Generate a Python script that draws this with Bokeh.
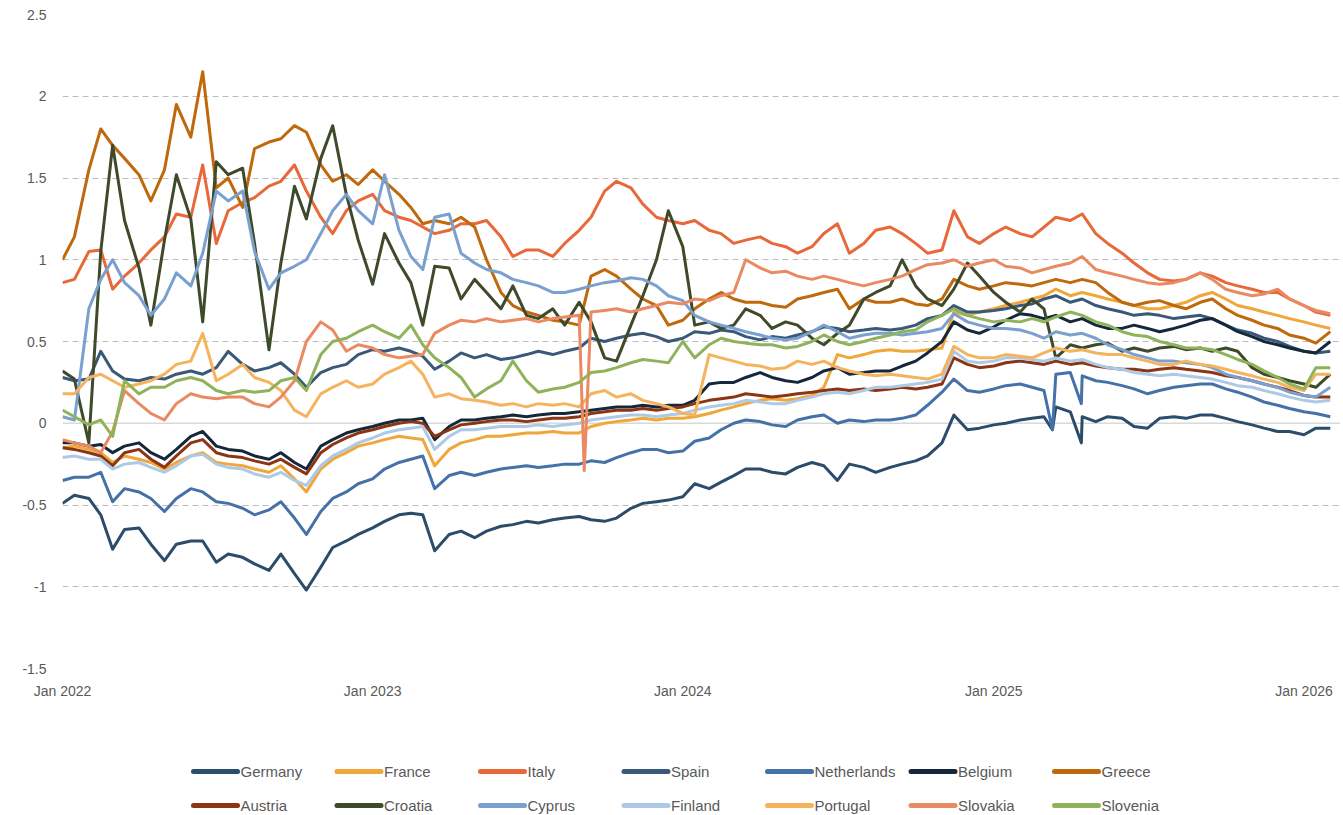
import pandas as pd
from bokeh.plotting import figure
from bokeh.models import Range1d, FixedTicker, NumeralTickFormatter, DatetimeTickFormatter, Span, ColumnDataSource
from bokeh.layouts import column
from bokeh.embed import file_html
from bokeh.resources import INLINE
from bokeh.core.properties import value

# semi-monthly observation dates (1st and 15th), Jan 2022 - Feb 2026
dates = pd.date_range("2022-01-01", "2026-02-01", freq="SMS")

countries = ["Germany", "France", "Italy", "Spain", "Netherlands", "Belgium", "Greece",
             "Austria", "Croatia", "Cyprus", "Finland", "Portugal", "Slovakia", "Slovenia"]
colors = ["#2b4c6b", "#f0a73a", "#e8683a", "#3a5878", "#4472a8", "#15273a", "#c0680c",
          "#8b3514", "#3e4a2a", "#79a0cf", "#aec9e6", "#f6b35e", "#ea8a62", "#8fb35a"]

germany = [-0.49, -0.44, -0.46, -0.56, -0.77, -0.65, -0.64, -0.74, -0.84, -0.74,
           -0.72, -0.72, -0.85, -0.80, -0.82, -0.86, -0.90, -0.80, -0.92, -1.02,
           -0.88, -0.76, -0.72, -0.68, -0.64, -0.60, -0.56, -0.55, -0.56, -0.78,
           -0.68, -0.66, -0.70, -0.66, -0.63, -0.62, -0.60, -0.61, -0.59, -0.58,
           -0.57, -0.59, -0.60, -0.58, -0.52, -0.49, -0.48, -0.47, -0.45, -0.37,
           -0.40, -0.36, -0.32, -0.28, -0.28, -0.30, -0.31, -0.27, -0.24, -0.26,
           -0.35, -0.25, -0.27, -0.30, -0.27, -0.25, -0.23, -0.20, -0.12, 0.05,
           -0.04, -0.03, -0.01, 0.00, 0.02, 0.03, 0.04, 0.10, 0.07, 0.04,
           0.01, 0.04, 0.03, -0.02, -0.03, 0.03, 0.04, 0.03, 0.05, 0.05,
           0.03, 0.01, -0.01, -0.03, -0.05, -0.05, -0.07, -0.03, -0.03]
france = [-0.15, -0.14, -0.16, -0.18, -0.24, -0.20, -0.22, -0.24, -0.28, -0.24,
          -0.20, -0.18, -0.24, -0.25, -0.26, -0.28, -0.30, -0.26, -0.34, -0.42,
          -0.28, -0.22, -0.18, -0.14, -0.12, -0.10, -0.08, -0.09, -0.10, -0.26,
          -0.16, -0.12, -0.10, -0.08, -0.08, -0.07, -0.06, -0.06, -0.05, -0.06,
          -0.06, -0.02, 0.00, 0.01, 0.02, 0.03, 0.02, 0.03, 0.03, 0.04,
          0.06, 0.08, 0.10, 0.12, 0.14, 0.15, 0.14, 0.15, 0.17, 0.22,
          0.42, 0.40, 0.42, 0.44, 0.45, 0.44, 0.44, 0.45, 0.46, 0.68,
          0.66, 0.68, 0.70, 0.72, 0.74, 0.76, 0.78, 0.82, 0.78, 0.80,
          0.78, 0.76, 0.74, 0.72, 0.70, 0.70, 0.72, 0.74, 0.78, 0.80,
          0.76, 0.72, 0.70, 0.68, 0.66, 0.64, 0.62, 0.60, 0.58]
italy = [0.86, 0.88, 1.05, 1.06, 0.82, 0.90, 0.98, 1.06, 1.14, 1.28,
         1.26, 1.58, 1.10, 1.30, 1.35, 1.38, 1.45, 1.48, 1.58, 1.42,
         1.26, 1.16, 1.30, 1.36, 1.40, 1.30, 1.26, 1.24, 1.20, 1.16,
         1.18, 1.22, 1.22, 1.24, 1.14, 1.02, 1.06, 1.06, 1.02, 1.10,
         1.18, 1.26, 1.42, 1.48, 1.44, 1.34, 1.26, 1.24, 1.22, 1.24,
         1.18, 1.16, 1.10, 1.12, 1.14, 1.10, 1.08, 1.04, 1.08, 1.16,
         1.22, 1.04, 1.10, 1.18, 1.20, 1.16, 1.10, 1.04, 1.06, 1.30,
         1.14, 1.10, 1.16, 1.20, 1.16, 1.14, 1.20, 1.26, 1.24, 1.28,
         1.16, 1.10, 1.04, 0.98, 0.92, 0.88, 0.87, 0.88, 0.92, 0.90,
         0.86, 0.84, 0.82, 0.80, 0.80, 0.76, 0.72, 0.68, 0.66]
spain = [0.28, 0.26, 0.27, 0.44, 0.32, 0.27, 0.26, 0.28, 0.27, 0.30,
         0.32, 0.30, 0.34, 0.44, 0.36, 0.32, 0.34, 0.37, 0.30, 0.22,
         0.31, 0.34, 0.36, 0.42, 0.45, 0.44, 0.46, 0.44, 0.41, 0.33,
         0.38, 0.43, 0.40, 0.42, 0.39, 0.40, 0.42, 0.44, 0.42, 0.44,
         0.46, 0.52, 0.50, 0.52, 0.54, 0.55, 0.53, 0.50, 0.52, 0.56,
         0.55, 0.57, 0.56, 0.53, 0.51, 0.53, 0.52, 0.54, 0.56, 0.59,
         0.58, 0.56, 0.57, 0.58, 0.57, 0.58, 0.60, 0.64, 0.66, 0.72,
         0.68, 0.68, 0.69, 0.70, 0.72, 0.73, 0.76, 0.78, 0.74, 0.76,
         0.72, 0.70, 0.68, 0.66, 0.67, 0.66, 0.64, 0.65, 0.66, 0.64,
         0.60, 0.57, 0.55, 0.52, 0.50, 0.47, 0.44, 0.43, 0.44]
netherlands = [-0.35, -0.33, -0.33, -0.30, -0.48, -0.40, -0.42, -0.46, -0.54, -0.46,
               -0.40, -0.42, -0.48, -0.49, -0.52, -0.56, -0.53, -0.48, -0.58, -0.68,
               -0.54, -0.46, -0.42, -0.37, -0.34, -0.28, -0.24, -0.22, -0.20, -0.40,
               -0.32, -0.30, -0.32, -0.30, -0.28, -0.27, -0.26, -0.27, -0.26, -0.25,
               -0.25, -0.23, -0.24, -0.21, -0.18, -0.16, -0.16, -0.18, -0.17, -0.11,
               -0.09, -0.04, 0.00, 0.02, 0.01, -0.01, -0.02, 0.02, 0.04, 0.05,
               0.00, 0.02, 0.01, 0.02, 0.02, 0.03, 0.05, 0.11, 0.19, 0.27,
               0.20, 0.19, 0.21, 0.23, 0.24, 0.22, 0.20, 0.30, 0.31, 0.29,
               0.26, 0.25, 0.23, 0.21, 0.18, 0.20, 0.22, 0.23, 0.24, 0.24,
               0.21, 0.19, 0.16, 0.13, 0.11, 0.09, 0.07, 0.06, 0.04]
belgium = [-0.12, -0.12, -0.14, -0.13, -0.18, -0.14, -0.12, -0.18, -0.22, -0.16,
           -0.08, -0.05, -0.14, -0.16, -0.17, -0.20, -0.22, -0.18, -0.24, -0.28,
           -0.14, -0.10, -0.06, -0.04, -0.02, 0.00, 0.02, 0.02, 0.03, -0.10,
           -0.02, 0.02, 0.02, 0.03, 0.04, 0.05, 0.04, 0.05, 0.06, 0.06,
           0.07, 0.08, 0.09, 0.10, 0.10, 0.11, 0.10, 0.11, 0.11, 0.14,
           0.24, 0.25, 0.25, 0.28, 0.31, 0.28, 0.26, 0.25, 0.28, 0.32,
           0.34, 0.30, 0.31, 0.32, 0.32, 0.35, 0.38, 0.43, 0.50, 0.62,
           0.57, 0.55, 0.59, 0.63, 0.67, 0.66, 0.64, 0.66, 0.62, 0.64,
           0.60, 0.58, 0.58, 0.60, 0.58, 0.56, 0.58, 0.60, 0.63, 0.64,
           0.60, 0.56, 0.53, 0.50, 0.48, 0.46, 0.44, 0.43, 0.50]
greece = [1.00, 1.14, 1.55, 1.80, 1.70, 1.62, 1.52, 1.36, 1.55, 1.95,
          1.75, 2.15, 1.44, 1.50, 1.32, 1.68, 1.72, 1.74, 1.82, 1.78,
          1.58, 1.48, 1.52, 1.46, 1.55, 1.48, 1.40, 1.32, 1.22, 1.24,
          1.22, 1.26, 1.20, 1.00, 0.80, 0.72, 0.68, 0.66, 0.63, 0.62,
          0.60, 0.90, 0.94, 0.90, 0.82, 0.76, 0.72, 0.60, 0.63, 0.70,
          0.76, 0.80, 0.76, 0.74, 0.74, 0.72, 0.71, 0.76, 0.78, 0.80,
          0.82, 0.70, 0.76, 0.74, 0.74, 0.76, 0.73, 0.72, 0.76, 0.88,
          0.84, 0.82, 0.84, 0.86, 0.85, 0.84, 0.86, 0.88, 0.86, 0.88,
          0.86, 0.80, 0.74, 0.72, 0.74, 0.75, 0.72, 0.70, 0.74, 0.76,
          0.70, 0.66, 0.63, 0.60, 0.58, 0.54, 0.52, 0.49, 0.56]
austria = [-0.15, -0.16, -0.18, -0.20, -0.26, -0.18, -0.16, -0.22, -0.27, -0.20,
           -0.12, -0.10, -0.18, -0.20, -0.21, -0.23, -0.25, -0.22, -0.27, -0.31,
           -0.18, -0.13, -0.09, -0.06, -0.04, -0.02, 0.00, 0.01, 0.00, -0.08,
           -0.04, -0.01, 0.00, 0.01, 0.02, 0.02, 0.01, 0.02, 0.03, 0.03,
           0.04, 0.06, 0.07, 0.08, 0.08, 0.09, 0.08, 0.09, 0.10, 0.12,
           0.14, 0.15, 0.16, 0.18, 0.17, 0.16, 0.17, 0.18, 0.19, 0.20,
           0.21, 0.20, 0.21, 0.20, 0.21, 0.22, 0.21, 0.22, 0.24, 0.40,
           0.36, 0.34, 0.35, 0.37, 0.38, 0.37, 0.36, 0.38, 0.36, 0.37,
           0.35, 0.34, 0.33, 0.33, 0.32, 0.33, 0.34, 0.33, 0.32, 0.31,
           0.29, 0.28, 0.26, 0.24, 0.22, 0.20, 0.17, 0.16, 0.16]
croatia = [0.32, 0.27, -0.12, 1.05, 1.70, 1.24, 0.95, 0.60, 1.12, 1.52,
           1.25, 0.62, 1.60, 1.52, 1.56, 1.10, 0.45, 0.98, 1.45, 1.25,
           1.62, 1.82, 1.40, 1.12, 0.85, 1.16, 0.98, 0.86, 0.60, 0.96,
           0.95, 0.76, 0.88, 0.80, 0.70, 0.84, 0.66, 0.64, 0.70, 0.60,
           0.74, 0.62, 0.40, 0.38, 0.60, 0.78, 1.00, 1.30, 1.08, 0.60,
           0.62, 0.58, 0.60, 0.70, 0.66, 0.58, 0.62, 0.60, 0.52, 0.48,
           0.55, 0.60, 0.76, 0.80, 0.84, 1.00, 0.84, 0.76, 0.72, 0.82,
           0.98, 0.90, 0.80, 0.74, 0.68, 0.76, 0.70, 0.40, 0.48, 0.46,
           0.48, 0.49, 0.44, 0.46, 0.44, 0.46, 0.47, 0.45, 0.46, 0.44,
           0.46, 0.44, 0.34, 0.30, 0.28, 0.26, 0.24, 0.22, 0.30]
cyprus = [0.04, 0.02, 0.70, 0.88, 1.00, 0.86, 0.78, 0.66, 0.76, 0.92,
          0.84, 1.04, 1.42, 1.36, 1.42, 1.05, 0.82, 0.92, 0.96, 1.00,
          1.16, 1.30, 1.40, 1.30, 1.22, 1.52, 1.18, 1.02, 0.94, 1.26,
          1.28, 1.04, 0.98, 0.94, 0.92, 0.88, 0.86, 0.84, 0.80, 0.80,
          0.82, 0.84, 0.86, 0.87, 0.89, 0.88, 0.84, 0.78, 0.75, 0.66,
          0.62, 0.60, 0.58, 0.56, 0.54, 0.52, 0.51, 0.52, 0.56, 0.60,
          0.56, 0.52, 0.54, 0.55, 0.55, 0.54, 0.55, 0.56, 0.58, 0.67,
          0.62, 0.60, 0.58, 0.58, 0.57, 0.55, 0.52, 0.56, 0.54, 0.55,
          0.52, 0.48, 0.45, 0.42, 0.40, 0.38, 0.38, 0.37, 0.36, 0.34,
          0.30, 0.28, 0.26, 0.24, 0.22, 0.19, 0.17, 0.16, 0.22]
finland = [-0.21, -0.20, -0.22, -0.22, -0.28, -0.25, -0.24, -0.27, -0.30, -0.26,
           -0.20, -0.19, -0.25, -0.27, -0.28, -0.31, -0.33, -0.30, -0.35, -0.38,
           -0.26, -0.20, -0.16, -0.12, -0.09, -0.06, -0.04, -0.03, -0.02, -0.16,
           -0.08, -0.04, -0.04, -0.03, -0.02, -0.02, -0.02, -0.01, -0.02, -0.01,
           0.00, 0.02, 0.03, 0.04, 0.05, 0.05, 0.04, 0.05, 0.06, 0.08,
           0.10, 0.11, 0.12, 0.14, 0.13, 0.12, 0.12, 0.14, 0.16, 0.18,
           0.19, 0.18, 0.20, 0.22, 0.22, 0.23, 0.24, 0.25, 0.27, 0.44,
           0.38, 0.37, 0.38, 0.40, 0.40, 0.39, 0.38, 0.40, 0.38, 0.39,
           0.36, 0.34, 0.33, 0.31, 0.30, 0.29, 0.30, 0.29, 0.28, 0.27,
           0.25, 0.23, 0.22, 0.20, 0.18, 0.16, 0.14, 0.13, 0.14]
portugal = [0.18, 0.18, 0.28, 0.30, 0.26, 0.22, 0.24, 0.26, 0.30, 0.36,
            0.38, 0.55, 0.26, 0.30, 0.36, 0.28, 0.25, 0.20, 0.08, 0.04,
            0.18, 0.22, 0.26, 0.22, 0.24, 0.30, 0.34, 0.38, 0.30, 0.16,
            0.18, 0.15, 0.14, 0.13, 0.11, 0.12, 0.10, 0.12, 0.11, 0.12,
            0.10, 0.18, 0.20, 0.16, 0.18, 0.14, 0.12, 0.10, 0.06, 0.05,
            0.42, 0.40, 0.38, 0.36, 0.35, 0.33, 0.34, 0.38, 0.36, 0.38,
            0.34, 0.32, 0.30, 0.29, 0.30, 0.29, 0.28, 0.27, 0.30, 0.47,
            0.42, 0.40, 0.40, 0.42, 0.41, 0.40, 0.43, 0.46, 0.44, 0.45,
            0.43, 0.42, 0.42, 0.40, 0.38, 0.36, 0.36, 0.38, 0.36, 0.35,
            0.33, 0.31, 0.29, 0.27, 0.25, 0.22, 0.20, 0.30, 0.30]
slovakia = [-0.10, -0.12, -0.14, -0.18, -0.05, 0.20, 0.12, 0.06, 0.02, 0.12,
            0.18, 0.16, 0.15, 0.16, 0.16, 0.12, 0.10, 0.16, 0.26, 0.50,
            0.62, 0.57, 0.44, 0.48, 0.46, 0.42, 0.40, 0.41, 0.42, 0.55,
            0.60, 0.63, 0.62, 0.64, 0.62, 0.63, 0.64, 0.62, 0.64, 0.65,
            0.66, 0.68, 0.69, 0.70, 0.68, 0.70, 0.72, 0.74, 0.73, 0.76,
            0.75, 0.78, 0.80, 1.00, 0.95, 0.92, 0.93, 0.90, 0.88, 0.90,
            0.88, 0.86, 0.84, 0.86, 0.88, 0.90, 0.94, 0.97, 0.98, 1.00,
            0.96, 0.98, 1.00, 0.96, 0.95, 0.92, 0.94, 0.96, 0.98, 1.02,
            0.94, 0.92, 0.90, 0.88, 0.86, 0.85, 0.86, 0.88, 0.92, 0.88,
            0.82, 0.80, 0.78, 0.79, 0.82, 0.76, 0.72, 0.69, 0.67]
slovenia = [0.08, 0.04, -0.01, 0.02, -0.08, 0.26, 0.18, 0.22, 0.22, 0.26,
            0.28, 0.26, 0.20, 0.18, 0.20, 0.19, 0.20, 0.26, 0.28, 0.20,
            0.42, 0.50, 0.52, 0.56, 0.60, 0.56, 0.52, 0.60, 0.48, 0.40,
            0.34, 0.28, 0.16, 0.21, 0.26, 0.38, 0.26, 0.19, 0.21, 0.22,
            0.25, 0.31, 0.32, 0.34, 0.37, 0.39, 0.38, 0.37, 0.50, 0.40,
            0.48, 0.52, 0.50, 0.49, 0.48, 0.48, 0.46, 0.47, 0.50, 0.54,
            0.50, 0.48, 0.50, 0.52, 0.54, 0.56, 0.57, 0.62, 0.66, 0.70,
            0.66, 0.64, 0.62, 0.63, 0.62, 0.64, 0.62, 0.65, 0.68, 0.66,
            0.62, 0.60, 0.56, 0.54, 0.53, 0.50, 0.48, 0.46, 0.46, 0.45,
            0.42, 0.39, 0.36, 0.32, 0.28, 0.24, 0.21, 0.34, 0.34]

# single-day outliers visible in the daily data
spikes = {
    "Slovakia": [("2023-09-07", -0.29)],
    "Germany": [("2025-03-11", -0.04), ("2025-04-14", -0.12)],
    "Netherlands": [("2025-03-11", -0.04), ("2025-04-14", 0.12)],
}

series = {"Germany": germany, "France": france, "Italy": italy, "Spain": spain,
          "Netherlands": netherlands, "Belgium": belgium, "Greece": greece,
          "Austria": austria, "Croatia": croatia, "Cyprus": cyprus, "Finland": finland,
          "Portugal": portugal, "Slovakia": slovakia, "Slovenia": slovenia}

y_ticks = [-1.5, -1, -0.5, 0, 0.5, 1, 1.5, 2, 2.5]
x_tick_years = [2022, 2023, 2024, 2025, 2026]

FONT = "Liberation Sans"
GREY = "#595959"
W = 1341
BL, BR = 62, 1

p = figure(width=W, height=704, x_axis_type="datetime",
           x_range=Range1d(pd.Timestamp("2022-01-01"), pd.Timestamp("2026-02-13")),
           y_range=Range1d(-1.5, 2.5),
           output_backend="svg", toolbar_location=None,
           min_border_left=BL, min_border_right=BR, min_border_top=14, min_border_bottom=36)
p.outline_line_color = None
p.background_fill_color = "white"

p.xgrid.visible = False
p.ygrid.ticker = FixedTicker(ticks=[t for t in y_ticks if t != 0])
p.ygrid.grid_line_color = "#bdbdbd"
p.ygrid.grid_line_dash = "6 4"
p.ygrid.grid_line_width = 1
p.add_layout(Span(location=0, dimension="width", line_color="#d9d9d9", line_width=1.5, level="underlay"))

p.yaxis.ticker = FixedTicker(ticks=y_ticks)
p.yaxis.formatter = NumeralTickFormatter(format="0.[0]")
p.xaxis.ticker = FixedTicker(ticks=[pd.Timestamp(f"{y}-01-01").timestamp() * 1000 for y in x_tick_years])
p.xaxis.formatter = DatetimeTickFormatter(years="%b %Y", months="%b %Y", days="%b %Y")
for ax in (p.xaxis[0], p.yaxis[0]):
    ax.axis_line_color = None
    ax.major_tick_line_color = None
    ax.minor_tick_line_color = None
    ax.major_tick_out = 0
    ax.major_tick_in = 0
    ax.major_label_text_color = GREY
    ax.major_label_text_font = FONT
    ax.major_label_text_font_size = "14px"
p.yaxis.major_label_standoff = 16
p.xaxis.major_label_standoff = 14

for name, col in zip(countries, colors):
    s = pd.Series(series[name], index=dates, dtype=float)
    for d, v in spikes.get(name, []):
        s.loc[pd.Timestamp(d)] = v
    s = s.sort_index()
    src = ColumnDataSource(data=dict(x=s.index, y=s.values))
    p.line("x", "y", source=src, line_color=col, line_width=3, line_join="round")

# legend drawn in its own strip below the chart (7 columns x 2 rows);
# its frame is aligned with the chart frame, so x is in page pixels
LH = 110
lg = figure(width=W, height=LH, x_range=Range1d(BL, W - BR), y_range=Range1d(LH, 0),
            output_backend="svg", toolbar_location=None,
            min_border_left=BL, min_border_right=BR, min_border_top=0, min_border_bottom=0,
            x_axis_type=None, y_axis_type=None)
lg.outline_line_color = None
ncol = 7
col_w = 143.5
x0 = 193
row_y = [67, 101]
lx0, ly, lx1, tx = [], [], [], []
for i, name in enumerate(countries):
    r, c = divmod(i, ncol)
    lx0.append(x0 + c * col_w)
    lx1.append(x0 + c * col_w + 44)
    tx.append(x0 + c * col_w + 47)
    ly.append(row_y[r])
lsrc = ColumnDataSource(data=dict(x0=lx0, x1=lx1, y=ly, tx=tx, name=countries, color=colors))
lg.segment("x0", "y", "x1", "y", source=lsrc, line_color="color", line_width=5, line_cap="round")
lg.text("tx", "y", text="name", source=lsrc, text_baseline="middle", text_align="left",
        text_color=GREY, text_font=value(FONT), text_font_size="15px")

layout = column(p, lg, spacing=0)
open("out.html", "w").write(file_html(layout, INLINE))
